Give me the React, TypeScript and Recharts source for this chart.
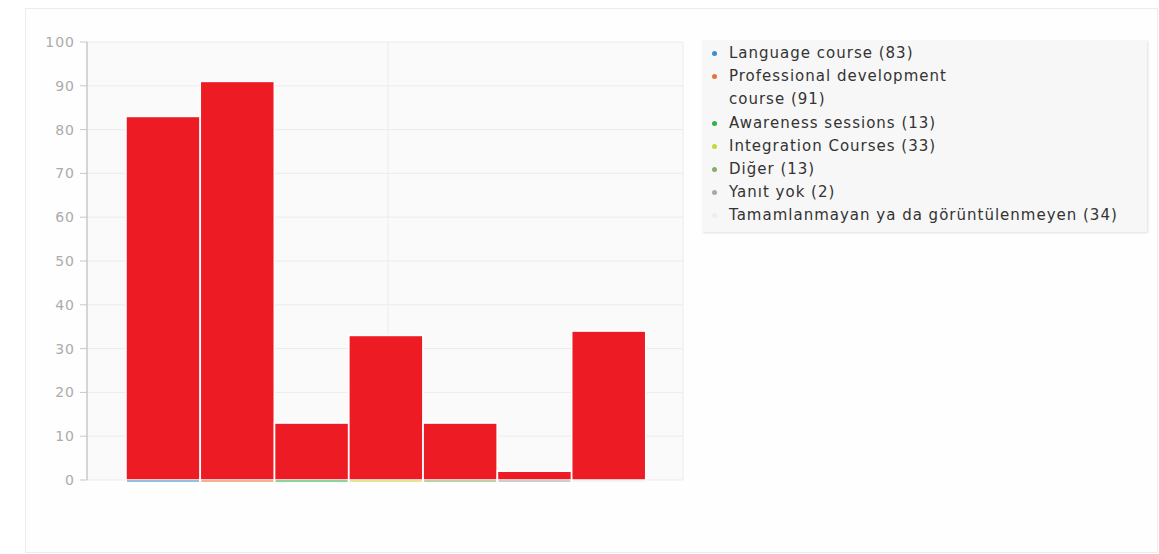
import React from "react";
import {
  BarChart,
  Bar,
  XAxis,
  YAxis,
  CartesianGrid,
} from "recharts";

const categories = [
  "Language course",
  "Professional development\ncourse",
  "Awareness sessions",
  "Integration Courses",
  "Diğer",
  "Yanıt yok",
  "Tamamlanmayan ya da görüntülenmeyen",
];
const counts = [83, 91, 13, 33, 13, 2, 34];
const seriesColors = [
  "#3a8fd0",
  "#e8743b",
  "#2fb34a",
  "#c9d63a",
  "#86ad6a",
  "#a8a8a8",
  "#e9eef3",
];
const yTicks = [0, 10, 20, 30, 40, 50, 60, 70, 80, 90, 100];

const BAR_RED = "#ed1c24";

const data = categories.map((name, i) => ({
  name,
  value: counts[i],
  color: seriesColors[i],
}));

function BarShape(props: any) {
  const { x, y, width, height, index } = props;
  return (
    <g>
      <rect
        x={x}
        y={y}
        width={width}
        height={height}
        fill={BAR_RED}
        stroke="#ffffff"
        strokeWidth={1.5}
      />
      <line
        x1={x + 1}
        x2={x + width - 1}
        y1={y + height + 1}
        y2={y + height + 1}
        stroke={seriesColors[index]}
        strokeWidth={2}
        opacity={0.55}
      />
    </g>
  );
}

export default function App() {
  return (
    <div
      style={{
        position: "absolute",
        left: 0,
        top: 0,
        width: 1159,
        height: 554,
        background: "#ffffff",
        fontFamily: "'DejaVu Sans', sans-serif",
      }}
    >
      <div
        style={{
          position: "absolute",
          left: 25,
          top: 8,
          width: 1131,
          height: 543,
          border: "1px solid #ececec",
          background: "#fefefe",
        }}
      />
      <div style={{ position: "absolute", left: 0, top: 0 }}>
        <BarChart
          width={700}
          height={554}
          data={data}
          margin={{ top: 42, right: 17, bottom: 74, left: 27 }}
          barCategoryGap={0}
        >
          <CartesianGrid
            stroke="#ececec"
            fill="#fafafa"
            verticalCoordinatesGenerator={({ offset }: any) => [
              offset.left + offset.width / 2 + 3,
              offset.left + offset.width,
            ]}
          />
          <XAxis
            dataKey="name"
            tick={false}
            tickLine={false}
            height={0}
            padding={{ left: 39, right: 37 }}
            axisLine={{ stroke: "#bdbdbd", strokeWidth: 1.5 }}
          />
          <YAxis
            domain={[0, 100]}
            ticks={yTicks}
            width={60}
            tickSize={7}
            tickMargin={5}
            interval={0}
            axisLine={{ stroke: "#c8c8c8", strokeWidth: 1.5 }}
            tickLine={{ stroke: "#c8c8c8" }}
            tick={{ fill: "#ababab", fontSize: 14, letterSpacing: 1 }}
          />
          <Bar
            dataKey="value"
            shape={<BarShape />}
            isAnimationActive={false}
          />
        </BarChart>
      </div>
      <div
        style={{
          position: "absolute",
          left: 702,
          top: 40,
          width: 445,
          height: 192,
          background: "#f7f7f7",
          boxShadow: "1px 1px 2px rgba(0,0,0,0.12)",
          boxSizing: "border-box",
          padding: "2px 0 0 10px",
        }}
      >
        {data.map((d) => (
          <div
            key={d.name}
            style={{
              display: "flex",
              alignItems: "flex-start",
              fontSize: 15,
              lineHeight: "23.2px",
              letterSpacing: 1,
              color: "#333333",
            }}
          >
            <span
              style={{
                display: "inline-block",
                width: 5,
                height: 5,
                borderRadius: 3,
                background: d.color,
                marginTop: 9,
                marginRight: 12,
                flexShrink: 0,
              }}
            />
            <span style={{ whiteSpace: "pre-line" }}>
              {`${d.name} (${d.value})`}
            </span>
          </div>
        ))}
      </div>
    </div>
  );
}
